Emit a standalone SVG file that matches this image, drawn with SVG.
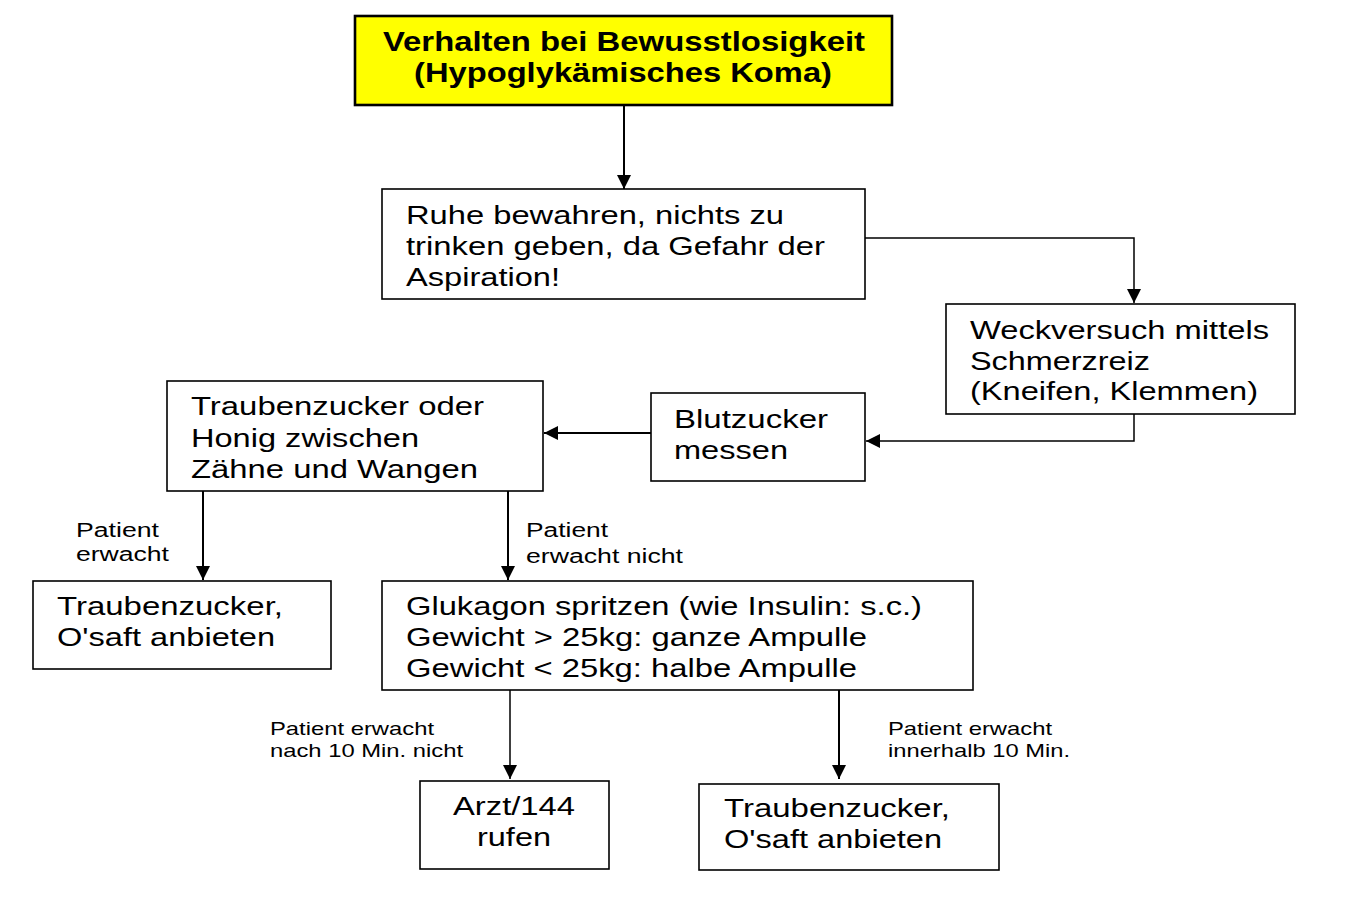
<svg xmlns="http://www.w3.org/2000/svg" width="1371" height="903" viewBox="0 0 1371 903">
<defs>
<style>
.box{fill:#fff;stroke:#000;stroke-width:1.6}
.title{fill:#ffff00;stroke:#000;stroke-width:2.6}
.t{font-family:"Liberation Sans",Arial,sans-serif;font-size:26px;fill:#000}
.tb{font-family:"Liberation Sans",Arial,sans-serif;font-size:27px;font-weight:bold;fill:#000}
.l{font-family:"Liberation Sans",Arial,sans-serif;font-size:20px;fill:#000}
.s{font-family:"Liberation Sans",Arial,sans-serif;font-size:19px;fill:#000}
.c{fill:none;stroke:#000;stroke-width:2}
.c2{fill:none;stroke:#000;stroke-width:1.5}
</style>
<marker id="ah" markerUnits="userSpaceOnUse" markerWidth="16" markerHeight="16" refX="14" refY="7" orient="auto">
<path d="M0,0 L14,7 L0,14 z" fill="#000"/>
</marker>
</defs>
<rect width="1371" height="903" fill="#fff"/>

<g id="connectors">
<path class="c" d="M624,105 V189" marker-end="url(#ah)"/>
<path class="c2" d="M865,238 H1134 V303" marker-end="url(#ah)"/>
<path class="c2" d="M1134,414 V441 H866" marker-end="url(#ah)"/>
<path class="c" d="M651,433 H544" marker-end="url(#ah)"/>
<path class="c" d="M203,491 V580" marker-end="url(#ah)"/>
<path class="c" d="M508,491 V580" marker-end="url(#ah)"/>
<path class="c2" d="M510,690 V779" marker-end="url(#ah)"/>
<path class="c" d="M839,690 V779" marker-end="url(#ah)"/>
</g>

<g id="n-title">
<rect class="title" x="355" y="16" width="537" height="89"/>
<text class="tb" x="383" y="51" textLength="482" lengthAdjust="spacingAndGlyphs">Verhalten bei Bewusstlosigkeit</text>
<text class="tb" x="414" y="82" textLength="418" lengthAdjust="spacingAndGlyphs">(Hypoglykämisches Koma)</text>
</g>

<g id="n-ruhe">
<rect class="box" x="382" y="189" width="483" height="110"/>
<text class="t" x="406" y="224" textLength="378" lengthAdjust="spacingAndGlyphs">Ruhe bewahren, nichts zu</text>
<text class="t" x="406" y="255" textLength="419" lengthAdjust="spacingAndGlyphs">trinken geben, da Gefahr der</text>
<text class="t" x="406" y="286" textLength="154" lengthAdjust="spacingAndGlyphs">Aspiration!</text>
</g>

<g id="n-weck">
<rect class="box" x="946" y="304" width="349" height="110"/>
<text class="t" x="970" y="339" textLength="299" lengthAdjust="spacingAndGlyphs">Weckversuch mittels</text>
<text class="t" x="970" y="370" textLength="180" lengthAdjust="spacingAndGlyphs">Schmerzreiz</text>
<text class="t" x="970" y="400" textLength="288" lengthAdjust="spacingAndGlyphs">(Kneifen, Klemmen)</text>
</g>

<g id="n-blutzucker">
<rect class="box" x="651" y="393" width="214" height="88"/>
<text class="t" x="674" y="428" textLength="154" lengthAdjust="spacingAndGlyphs">Blutzucker</text>
<text class="t" x="674" y="459" textLength="114" lengthAdjust="spacingAndGlyphs">messen</text>
</g>

<g id="n-honig">
<rect class="box" x="167" y="381" width="376" height="110"/>
<text class="t" x="191" y="415" textLength="293" lengthAdjust="spacingAndGlyphs">Traubenzucker oder</text>
<text class="t" x="191" y="447" textLength="228" lengthAdjust="spacingAndGlyphs">Honig zwischen</text>
<text class="t" x="191" y="478" textLength="287" lengthAdjust="spacingAndGlyphs">Zähne und Wangen</text>
</g>

<g id="lbl-erwacht">
<text class="l" x="76" y="537" textLength="83" lengthAdjust="spacingAndGlyphs">Patient</text>
<text class="l" x="76" y="561" textLength="93" lengthAdjust="spacingAndGlyphs">erwacht</text>
</g>
<g id="lbl-nicht">
<text class="l" x="526" y="537" textLength="82" lengthAdjust="spacingAndGlyphs">Patient</text>
<text class="l" x="526" y="563" textLength="157" lengthAdjust="spacingAndGlyphs">erwacht nicht</text>
</g>

<g id="n-saft1">
<rect class="box" x="33" y="581" width="298" height="88"/>
<text class="t" x="57" y="615" textLength="226" lengthAdjust="spacingAndGlyphs">Traubenzucker,</text>
<text class="t" x="57" y="646" textLength="218" lengthAdjust="spacingAndGlyphs">O'saft anbieten</text>
</g>

<g id="n-glukagon">
<rect class="box" x="382" y="581" width="591" height="109"/>
<text class="t" x="406" y="615" textLength="516" lengthAdjust="spacingAndGlyphs">Glukagon spritzen (wie Insulin: s.c.)</text>
<text class="t" x="406" y="646" textLength="461" lengthAdjust="spacingAndGlyphs">Gewicht &gt; 25kg: ganze Ampulle</text>
<text class="t" x="406" y="677" textLength="451" lengthAdjust="spacingAndGlyphs">Gewicht &lt; 25kg: halbe Ampulle</text>
</g>

<g id="lbl-10nicht">
<text class="s" x="270" y="735" textLength="164" lengthAdjust="spacingAndGlyphs">Patient erwacht</text>
<text class="s" x="270" y="757" textLength="193" lengthAdjust="spacingAndGlyphs">nach 10 Min. nicht</text>
</g>
<g id="lbl-innerhalb">
<text class="s" x="888" y="735" textLength="164" lengthAdjust="spacingAndGlyphs">Patient erwacht</text>
<text class="s" x="888" y="757" textLength="182" lengthAdjust="spacingAndGlyphs">innerhalb 10 Min.</text>
</g>

<g id="n-arzt">
<rect class="box" x="420" y="781" width="189" height="88"/>
<text class="t" x="453" y="815" textLength="122" lengthAdjust="spacingAndGlyphs">Arzt/144</text>
<text class="t" x="477" y="846" textLength="74" lengthAdjust="spacingAndGlyphs">rufen</text>
</g>

<g id="n-saft2">
<rect class="box" x="699" y="784" width="300" height="86"/>
<text class="t" x="724" y="817" textLength="226" lengthAdjust="spacingAndGlyphs">Traubenzucker,</text>
<text class="t" x="724" y="848" textLength="218" lengthAdjust="spacingAndGlyphs">O'saft anbieten</text>
</g>
</svg>
